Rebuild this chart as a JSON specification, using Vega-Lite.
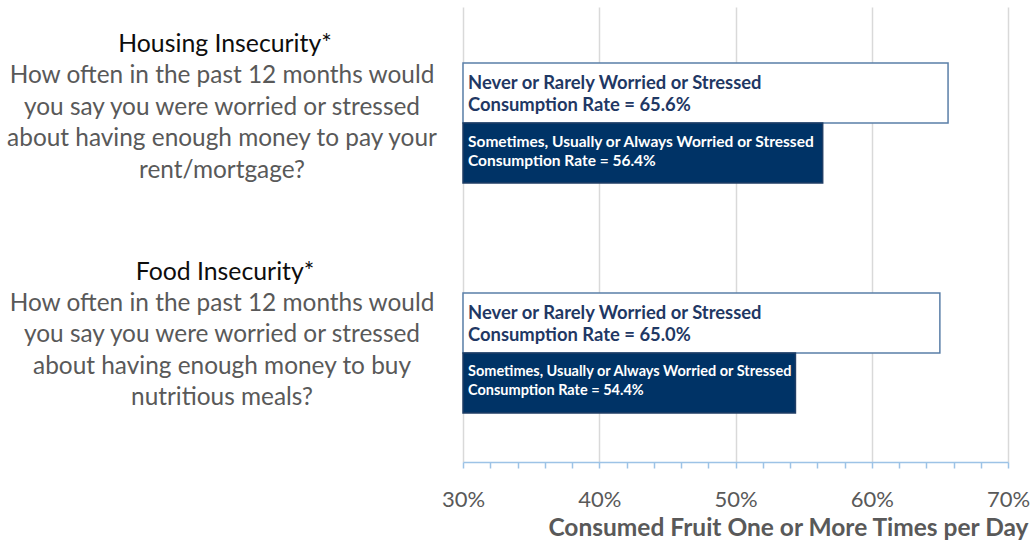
{
  "$schema": "https://vega.github.io/schema/vega-lite/v6.json",
  "background": "white",
  "padding": {"left": 0, "top": 7, "right": 4, "bottom": 0},
  "bounds": "flush",
  "spacing": 19,
  "config": {"view": {"stroke": null}, "font": "Lato"},
  "datasets": {
    "questions": [
      {"question": "Housing", "heading": "Housing Insecurity*", "body": "How often in the past 12 months would\nyou say you were worried or stressed\nabout having enough money to pay your\nrent/mortgage?"},
      {"question": "Food", "heading": "Food Insecurity*", "body": "How often in the past 12 months would\nyou say you were worried or stressed\nabout having enough money to buy\nnutritious meals?"}
    ],
    "bars": [
      {"question": "Housing", "response": "Never or Rarely", "rate": 65.6},
      {"question": "Housing", "response": "Sometimes, Usually or Always", "rate": 56.4},
      {"question": "Food", "response": "Never or Rarely", "rate": 65.0},
      {"question": "Food", "response": "Sometimes, Usually or Always", "rate": 54.4}
    ]
  },
  "hconcat": [
    {
      "width": 444,
      "height": 455,
      "data": {"name": "questions"},
      "encoding": {
        "y": {"field": "question", "type": "nominal", "scale": {"domain": ["Housing", "Food"], "paddingInner": 0.478, "paddingOuter": 0.228, "align": 0.533}, "axis": null}
      },
      "layer": [
        {
          "mark": {"type": "text", "fontSize": 24.8, "color": "#0D0D0D", "dy": -83, "dx": 3, "baseline": "middle"},
          "encoding": {"text": {"field": "heading"}}
        },
        {
          "mark": {"type": "text", "fontSize": 24.4, "color": "#595959", "dy": -52, "baseline": "middle", "lineBreak": "\n", "lineHeight": 31.5},
          "encoding": {"text": {"field": "body"}}
        }
      ]
    },
    {
      "width": 545,
      "height": 455,
      "data": {"name": "bars"},
      "transform": [
        {"calculate": "datum.response + ' Worried or Stressed\\nConsumption Rate = ' + format(datum.rate, '.1f') + '%'", "as": "label"}
      ],
      "encoding": {
        "y": {"field": "question", "type": "nominal", "scale": {"domain": ["Housing", "Food"], "paddingInner": 0.478, "paddingOuter": 0.228, "align": 0.533}, "axis": null},
        "yOffset": {"field": "response", "type": "nominal", "scale": {"domain": ["Never or Rarely", "Sometimes, Usually or Always"], "paddingInner": 0, "paddingOuter": 0}}
      },
      "layer": [
        {
          "mark": {"type": "bar", "strokeWidth": 1.5},
          "encoding": {
            "x": {
              "field": "rate", "type": "quantitative",
              "scale": {"domain": [30, 70], "zero": false, "nice": false},
              "axis": {
                "values": [30, 32, 34, 36, 38, 40, 42, 44, 46, 48, 50, 52, 54, 56, 58, 60, 62, 64, 66, 68, 70],
                "tickCount": 30,
                "labelExpr": "datum.value % 10 === 0 ? datum.value + '%' : ''",
                "labelOverlap": false,
                "labelBound": false,
                "labelFlush": false,
                "labelFontSize": 22,
                "labelColor": "#595959",
                "labelPadding": 21,
                "tickColor": "#9DC3E6",
                "tickSize": 6,
                "tickWidth": 1.5,
                "domainColor": "#9DC3E6",
                "domainWidth": 1.5,
                "grid": true,
                "gridColor": {"condition": {"test": "datum.value % 10 !== 0", "value": "rgba(0,0,0,0)"}, "value": "#D9D9D9"},
                "gridWidth": 1.5,
                "title": "Consumed Fruit One or More Times per Day",
                "titleFontSize": 24.5,
                "titleFontWeight": "bold",
                "titleColor": "#595959",
                "titleX": 565,
                "titleAlign": "right",
                "titlePadding": 6
              }
            },
            "x2": {"datum": 30},
            "fill": {"field": "response", "type": "nominal", "scale": {"domain": ["Never or Rarely", "Sometimes, Usually or Always"], "range": ["#FFFFFF", "#003366"]}, "legend": null},
            "stroke": {"field": "response", "type": "nominal", "scale": {"domain": ["Never or Rarely", "Sometimes, Usually or Always"], "range": ["#5A7FA8", "#1F3E66"]}, "legend": null}
          }
        },
        {
          "transform": [{"filter": "datum.response == 'Never or Rarely'"}],
          "mark": {"type": "text", "align": "left", "baseline": "middle", "dx": 5, "dy": -10, "fontSize": 18.4, "fontWeight": "bold", "color": "#1F3864", "lineBreak": "\n", "lineHeight": 22},
          "encoding": {"x": {"datum": 30}, "text": {"field": "label"}}
        },
        {
          "transform": [{"filter": "datum.response != 'Never or Rarely'"}],
          "mark": {"type": "text", "align": "left", "baseline": "middle", "dx": 5, "dy": -11, "fontWeight": "bold", "color": "#FFFFFF", "lineBreak": "\n", "lineHeight": 19.5},
          "encoding": {
            "x": {"datum": 30},
            "text": {"field": "label"},
            "size": {"condition": {"test": "datum.question == 'Food'", "value": 14.5}, "value": 15.5}
          }
        }
      ]
    }
  ]
}
